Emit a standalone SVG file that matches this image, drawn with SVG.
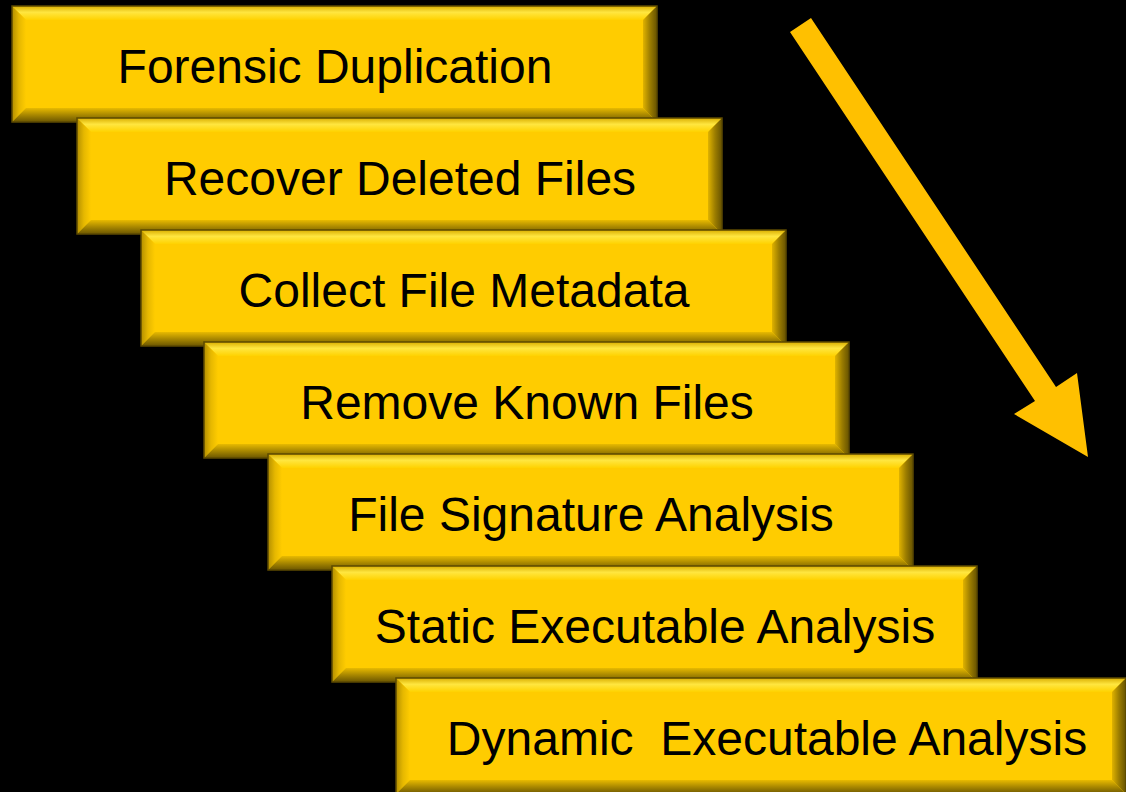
<svg xmlns="http://www.w3.org/2000/svg" width="1126" height="792" viewBox="0 0 1126 792">
<defs>
<style>
.face{fill:#FFCC00;}
.top{fill:url(#gTop);}
.left{fill:url(#gLeft);}
.bot{fill:url(#gBot);}
.right{fill:url(#gRight);}
.edge{fill:none;stroke:#5C4A00;stroke-width:1.5;}
.lbl{font-family:"Liberation Sans",Arial,sans-serif;font-size:48px;fill:#000;text-anchor:middle;}
</style>
<linearGradient id="gTop" x1="0" y1="0" x2="0" y2="1">
<stop offset="0" stop-color="#D9AE00"/>
<stop offset="0.45" stop-color="#FFE640"/>
<stop offset="1" stop-color="#FFD200"/>
</linearGradient>
<linearGradient id="gLeft" x1="0" y1="0" x2="1" y2="0">
<stop offset="0" stop-color="#B38F00"/>
<stop offset="0.5" stop-color="#E6B800"/>
<stop offset="1" stop-color="#FFCC00"/>
</linearGradient>
<linearGradient id="gBot" x1="0" y1="0" x2="0" y2="1">
<stop offset="0" stop-color="#E8BA00"/>
<stop offset="0.5" stop-color="#A88700"/>
<stop offset="1" stop-color="#6B5600"/>
</linearGradient>
<linearGradient id="gRight" x1="0" y1="0" x2="1" y2="0">
<stop offset="0" stop-color="#E0B300"/>
<stop offset="0.5" stop-color="#9C7D00"/>
<stop offset="1" stop-color="#665200"/>
</linearGradient>
</defs>
<rect x="0" y="0" width="1126" height="792" fill="#000"/>

<g id="connectors">
<polygon points="790,32 811,18 1056,387 1077,373 1088,457 1014,414 1035,401" fill="#FFC000"/>
</g>

<g id="step1" transform="translate(12,6)">
<rect class="face" x="0" y="0" width="645" height="116"/>
<polygon class="top" points="0,0 645,0 631,14 14,14"/>
<polygon class="left" points="0,0 14,14 14,102 0,116"/>
<polygon class="bot" points="0,116 14,102 631,102 645,116"/>
<polygon class="right" points="645,0 645,116 631,102 631,14"/>
<rect class="edge" x="0" y="0" width="645" height="116"/>
<text class="lbl" x="323" y="77">Forensic Duplication</text>
</g>

<g id="step2" transform="translate(77,118)">
<rect class="face" x="0" y="0" width="645" height="116"/>
<polygon class="top" points="0,0 645,0 631,14 14,14"/>
<polygon class="left" points="0,0 14,14 14,102 0,116"/>
<polygon class="bot" points="0,116 14,102 631,102 645,116"/>
<polygon class="right" points="645,0 645,116 631,102 631,14"/>
<rect class="edge" x="0" y="0" width="645" height="116"/>
<text class="lbl" x="323" y="77">Recover Deleted Files</text>
</g>

<g id="step3" transform="translate(141,230)">
<rect class="face" x="0" y="0" width="645" height="116"/>
<polygon class="top" points="0,0 645,0 631,14 14,14"/>
<polygon class="left" points="0,0 14,14 14,102 0,116"/>
<polygon class="bot" points="0,116 14,102 631,102 645,116"/>
<polygon class="right" points="645,0 645,116 631,102 631,14"/>
<rect class="edge" x="0" y="0" width="645" height="116"/>
<text class="lbl" x="323" y="77">Collect File Metadata</text>
</g>

<g id="step4" transform="translate(204,342)">
<rect class="face" x="0" y="0" width="645" height="116"/>
<polygon class="top" points="0,0 645,0 631,14 14,14"/>
<polygon class="left" points="0,0 14,14 14,102 0,116"/>
<polygon class="bot" points="0,116 14,102 631,102 645,116"/>
<polygon class="right" points="645,0 645,116 631,102 631,14"/>
<rect class="edge" x="0" y="0" width="645" height="116"/>
<text class="lbl" x="323" y="77">Remove Known Files</text>
</g>

<g id="step5" transform="translate(268,454)">
<rect class="face" x="0" y="0" width="645" height="116"/>
<polygon class="top" points="0,0 645,0 631,14 14,14"/>
<polygon class="left" points="0,0 14,14 14,102 0,116"/>
<polygon class="bot" points="0,116 14,102 631,102 645,116"/>
<polygon class="right" points="645,0 645,116 631,102 631,14"/>
<rect class="edge" x="0" y="0" width="645" height="116"/>
<text class="lbl" x="323" y="77">File Signature Analysis</text>
</g>

<g id="step6" transform="translate(332,566)">
<rect class="face" x="0" y="0" width="645" height="116"/>
<polygon class="top" points="0,0 645,0 631,14 14,14"/>
<polygon class="left" points="0,0 14,14 14,102 0,116"/>
<polygon class="bot" points="0,116 14,102 631,102 645,116"/>
<polygon class="right" points="645,0 645,116 631,102 631,14"/>
<rect class="edge" x="0" y="0" width="645" height="116"/>
<text class="lbl" x="323" y="77">Static Executable Analysis</text>
</g>

<g id="step7" transform="translate(396,678)">
<rect class="face" x="0" y="0" width="730" height="116"/>
<polygon class="top" points="0,0 730,0 716,14 14,14"/>
<polygon class="left" points="0,0 14,14 14,102 0,116"/>
<polygon class="bot" points="0,116 14,102 716,102 730,116"/>
<polygon class="right" points="730,0 730,116 716,102 716,14"/>
<rect class="edge" x="0" y="0" width="730" height="116"/>
<text class="lbl" x="371" y="77" xml:space="preserve" style="white-space:pre">Dynamic  Executable Analysis</text>
</g>
</svg>
